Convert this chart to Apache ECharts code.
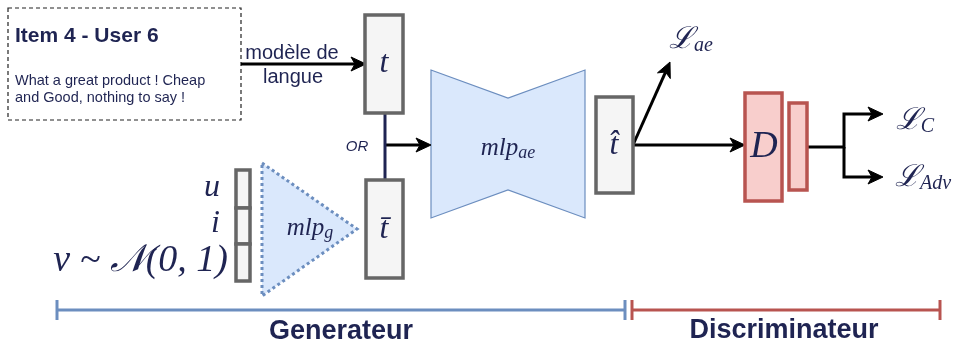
<!DOCTYPE html>
<html>
<head>
<meta charset="utf-8">
<script src="https://cdn.jsdelivr.net/npm/echarts@6/dist/echarts.min.js"></script>
<style>
html, body { margin: 0; padding: 0; background: #fff; }
#diagram { width: 958px; height: 344px; }
</style>
</head>
<body>
<div id="diagram"></div>
<script>
// diagram drawn on a hidden 958 x 344 value grid (y goes down)
var grayBoxes = [[365, 15, 403, 113], [366, 180, 403, 278], [596, 97, 633, 193],
  [236, 170, 250, 208], [236, 208, 250, 244], [236, 244, 250, 281]];
var redBoxes = [[745, 93, 782, 201], [789, 103, 807, 190]];
var textBox = [[8, 8, 241, 120]];
var aeShape = [[431, 70], [508, 98], [585, 70], [585, 218], [508, 190], [431, 218]];
var genShape = [[262, 163], [357, 229], [262, 296]];
var arrows = [
  [[241, 64], [366, 64]],
  [[385, 145], [431, 145]],
  [[633, 145], [745, 145]],
  [[633, 145], [670, 62]],
  [[807, 147], [844, 147], [844, 114], [883, 114]],
  [[844, 147], [844, 177], [883, 177]]
];
var orLine = [[385, 113], [385, 180]];
var brackets = [[57, 625, 310], [632, 940, 310]];
var sansLabels = [
  ['Item 4 - User 6', 15, 36],
  ['What a great product ! Cheap', 15, 81],
  ['and Good, nothing to say !', 15, 98]
];
var modelLabel = ['modèle de', 'langue'];
var mathLabels = [
  ['{m|t}', 384, 64],
  ['{m|t\u0304}', 384, 230],
  ['{m|t\u0302}', 614, 146],
  ['{mid|mlp}{sub|ae}', 508, 148],
  ['{mid|mlp}{sub|g}', 310, 228],
  ['{big|D}', 764, 147],
  ['{l|\u2112}{ls|ae}', 691, 40],
  ['{l|\u2112}{ls|C}', 915, 121],
  ['{l|\u2112}{ls|Adv}', 923, 178]
];
var inputLabels = [['u', 220, 188], ['i', 220, 224], ['v ~ \uD835\uDCA9(0, 1)', 228, 261]];
var sectionLabels = [['Generateur', 341, 332], ['Discriminateur', 784, 331]];

var NAVY = '#1f2452';
var SERIF = 'italic {s}px "Liberation Serif", "DejaVu Serif", serif';
function serif(s) { return SERIF.replace('{s}', s); }

function boxSeries(list, fill, stroke, lw, dash) {
  return {
    type: 'custom', coordinateSystem: 'cartesian2d', clip: false,
    data: list,
    encode: { x: [0, 2], y: [1, 3] },
    renderItem: function (params, api) {
      var a = api.coord([api.value(0), api.value(1)]);
      var b = api.coord([api.value(2), api.value(3)]);
      return {
        type: 'rect',
        shape: { x: a[0], y: a[1], width: b[0] - a[0], height: b[1] - a[1] },
        style: { fill: fill, stroke: stroke, lineWidth: lw, lineDash: dash || null }
      };
    }
  };
}

function polySeries(points, fill, stroke, lw, dash) {
  return {
    type: 'custom', coordinateSystem: 'cartesian2d', clip: false,
    data: [points[0]],
    renderItem: function (params, api) {
      return {
        type: 'polygon',
        shape: { points: points.map(function (p) { return api.coord(p); }) },
        style: { fill: fill, stroke: stroke, lineWidth: lw, lineDash: dash || null }
      };
    }
  };
}

function arrowHead(tip, prev) {
  var dx = tip[0] - prev[0], dy = tip[1] - prev[1];
  var len = Math.sqrt(dx * dx + dy * dy);
  var ux = dx / len, uy = dy / len;
  var L = 15, Wd = 7, N = 4;
  return [
    tip,
    [tip[0] - ux * L - uy * Wd, tip[1] - uy * L + ux * Wd],
    [tip[0] - ux * (L - N), tip[1] - uy * (L - N)],
    [tip[0] - ux * L + uy * Wd, tip[1] - uy * L - ux * Wd]
  ];
}

var series = [];

// dashed review box
series.push(boxSeries(textBox, '#fff', '#222', 1.2, [4, 3]));
// generator triangle and autoencoder shape
series.push(polySeries(genShape, '#dae8fc', '#6c8ebf', 3, [3, 3]));
series.push(polySeries(aeShape, '#dae8fc', '#6c8ebf', 1.2));

// connection lines + arrows
series.push({
  type: 'custom', coordinateSystem: 'cartesian2d', clip: false,
  data: arrows.map(function (a) { return a[0]; }),
  renderItem: function (params, api) {
    var pts = arrows[params.dataIndex].map(function (p) { return api.coord(p); });
    var n = pts.length;
    var head = arrowHead(pts[n - 1], pts[n - 2]);
    var back = head[2];
    var linePts = pts.slice(0, n - 1).concat([back]);
    return {
      type: 'group',
      children: [
        { type: 'polyline', shape: { points: linePts }, style: { stroke: '#000', lineWidth: 3, fill: null } },
        { type: 'polygon', shape: { points: head }, style: { fill: '#000', stroke: '#000', lineWidth: 1 } }
      ]
    };
  }
});
series.push({
  type: 'custom', coordinateSystem: 'cartesian2d', clip: false,
  data: [orLine[0]],
  renderItem: function (params, api) {
    return {
      type: 'polyline',
      shape: { points: orLine.map(function (p) { return api.coord(p); }) },
      style: { stroke: NAVY, lineWidth: 3, fill: null }
    };
  }
});

series.push(boxSeries(grayBoxes, '#f5f5f5', '#666666', 3.5));
series.push(boxSeries(redBoxes, '#f8cecc', '#b85450', 3.5));

// brackets at the bottom
var bracketColors = ['#6c8ebf', '#b85450'];
series.push({
  type: 'custom', coordinateSystem: 'cartesian2d', clip: false,
  data: brackets.map(function (b) { return [b[0], b[2]]; }),
  renderItem: function (params, api) {
    var b = brackets[params.dataIndex];
    var a = api.coord([b[0], b[2]]);
    var c = api.coord([b[1], b[2]]);
    var col = bracketColors[params.dataIndex];
    var st = { stroke: col, lineWidth: 3 };
    return {
      type: 'group',
      children: [
        { type: 'line', shape: { x1: a[0], y1: a[1], x2: c[0], y2: c[1] }, style: st },
        { type: 'line', shape: { x1: a[0], y1: a[1] - 10, x2: a[0], y2: a[1] + 10 }, style: st },
        { type: 'line', shape: { x1: c[0], y1: c[1] - 10, x2: c[0], y2: c[1] + 10 }, style: st }
      ]
    };
  }
});

function textSeries(list, styleFn) {
  return {
    type: 'custom', coordinateSystem: 'cartesian2d', clip: false,
    data: list.map(function (t) { return [t[1], t[2]]; }),
    renderItem: function (params, api) {
      var t = list[params.dataIndex];
      var p = api.coord([t[1], t[2]]);
      var st = styleFn(t, params.dataIndex);
      st.text = t[0];
      return { type: 'text', x: p[0], y: p[1], style: st, z2: 10 };
    }
  };
}

series.push(textSeries(sansLabels, function (t, i) {
  return {
    font: i === 0 ? 'bold 21px "Liberation Sans", Arial, sans-serif' : '14.5px "Liberation Sans", Arial, sans-serif',
    fill: NAVY, align: 'left', verticalAlign: 'middle'
  };
}));
series.push(textSeries([[modelLabel[0], 292, 53], [modelLabel[1], 293, 77]], function () {
  return { font: '20px "Liberation Sans", Arial, sans-serif', fill: NAVY, align: 'center', verticalAlign: 'middle' };
}));
series.push(textSeries([['OR', 357, 147]], function () {
  return { font: 'italic 15px "Liberation Sans", Arial, sans-serif', fill: NAVY, align: 'center', verticalAlign: 'middle' };
}));
series.push(textSeries(mathLabels, function () {
  return {
    align: 'center', verticalAlign: 'middle', fill: NAVY,
    rich: {
      m: { font: serif(32), fill: NAVY },
      mid: { font: serif(25), fill: NAVY },
      sub: { font: serif(18), fill: NAVY, padding: [10, 0, 0, 0] },
      big: { font: serif(38), fill: NAVY },
      l: { font: serif(30), fill: NAVY },
      ls: { font: serif(20), fill: NAVY, padding: [12, 0, 0, 0] }
    }
  };
}));
series.push(textSeries(inputLabels, function (t, i) {
  return { font: serif(i === 2 ? 38 : 32), fill: NAVY, align: 'right', verticalAlign: 'middle' };
}));
series.push(textSeries(sectionLabels, function () {
  return { font: 'bold 27px "Liberation Sans", Arial, sans-serif', fill: NAVY, align: 'center', verticalAlign: 'middle' };
}));

var chart = echarts.init(document.getElementById('diagram'));
chart.setOption({
  animation: false,
  grid: { left: 0, right: 0, top: 0, bottom: 0 },
  xAxis: { type: 'value', min: 0, max: 958, show: false },
  yAxis: { type: 'value', min: 0, max: 344, inverse: true, show: false },
  series: series
});
</script>
</body>
</html>
